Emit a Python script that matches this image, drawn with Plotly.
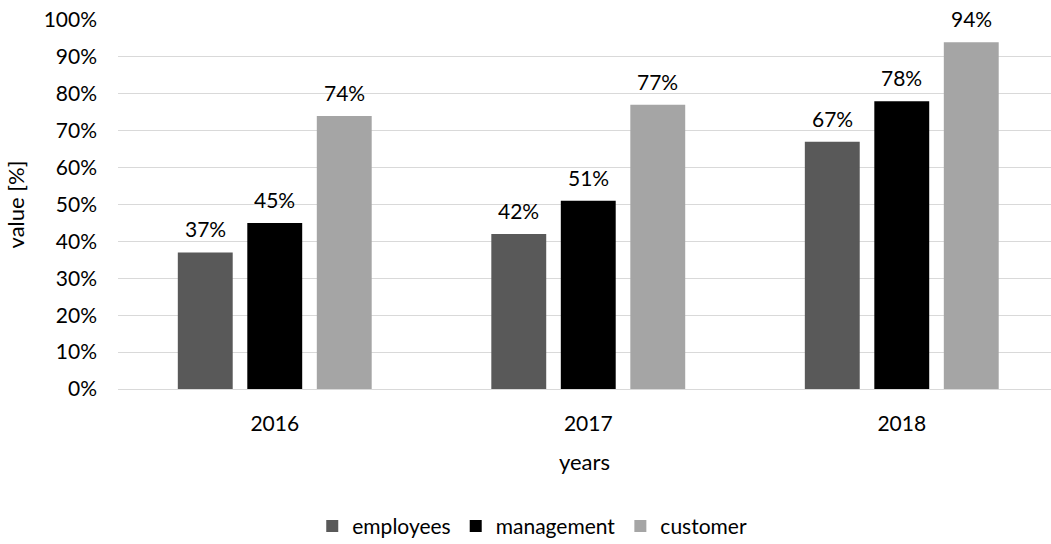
import plotly.graph_objects as go

years = ["2016", "2017", "2018"]
series_names = ["employees", "management", "customer"]
employees = [0.37, 0.42, 0.67]
management = [0.45, 0.51, 0.78]
customer = [0.74, 0.77, 0.94]
colors = ["#595959", "#000000", "#a5a5a5"]

y_ticks = [i / 10 for i in range(11)]
y_tick_text = [f"{int(round(v * 100))}%" for v in y_ticks]

FONT = "Lato, 'Open Sans', sans-serif"
FS = 21
BARGAP = 0.335
GROUPGAP = 0.21

fig = go.Figure()
all_series = [employees, management, customer]
for name, vals, col in zip(series_names, all_series, colors):
    fig.add_trace(go.Bar(
        name=name, x=years, y=vals,
        marker=dict(color=col, line=dict(width=0)),
    ))

# value labels above each bar, placed at the bar's centre inside its group
n = len(all_series)
slot = (1 - BARGAP) / n
for k, vals in enumerate(all_series):
    offset = (k - (n - 1) / 2) * slot
    for i, v in enumerate(vals):
        fig.add_annotation(
            x=i + offset, y=v, xref="x", yref="y",
            text=f"{int(round(v * 100))}%", showarrow=False,
            yanchor="bottom", yshift=9,
            font=dict(family=FONT, size=FS, color="#000000"),
        )

fig.update_layout(
    width=1051, height=544,
    margin=dict(l=118, r=0, t=20, b=154.5, autoexpand=False),
    paper_bgcolor="white", plot_bgcolor="white",
    barmode="group", bargap=BARGAP, bargroupgap=GROUPGAP,
    font=dict(family=FONT, size=FS, color="#000000"),
    showlegend=True,
    legend=dict(
        orientation="h", x=0.444, xanchor="center",
        y=-0.372, yanchor="middle",
        font=dict(family=FONT, size=FS, color="#000000"),
        itemwidth=30, traceorder="normal",
    ),
    xaxis=dict(
        type="category", range=[-0.5, 2.476], automargin=False,
        showgrid=False, showline=False, zeroline=False,
        ticks="", ticklabelstandoff=20,
        tickfont=dict(family=FONT, size=FS),
        title=dict(text="years", font=dict(family=FONT, size=22), standoff=20),
    ),
    yaxis=dict(
        range=[0, 1], tickvals=y_ticks, ticktext=y_tick_text, automargin=False,
        showgrid=True, gridcolor="#d9d9d9", gridwidth=1.3,
        zeroline=True, zerolinecolor="#d9d9d9", zerolinewidth=1.3,
        showline=False, ticks="", ticklabelstandoff=20,
        tickfont=dict(family=FONT, size=FS),
        title=dict(text="value [%]", font=dict(family=FONT, size=22), standoff=12),
    ),
)

fig.write_html("out.html")
